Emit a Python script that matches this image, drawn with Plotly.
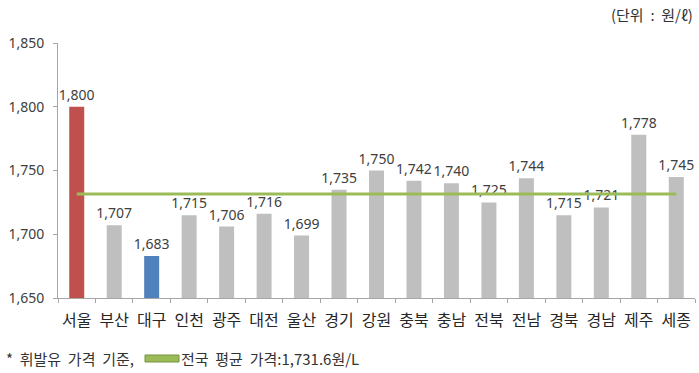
import plotly.graph_objects as go

regions = ["서울", "부산", "대구", "인천", "광주", "대전", "울산", "경기", "강원",
           "충북", "충남", "전북", "전남", "경북", "경남", "제주", "세종"]
prices = [1800, 1707, 1683, 1715, 1706, 1716, 1699, 1735, 1750,
          1742, 1740, 1725, 1744, 1715, 1721, 1778, 1745]
national_avg = 1731.6
y_ticks = [1650, 1700, 1750, 1800, 1850]

colors = ["#C0504D" if r == "서울" else "#4F81BD" if r == "대구" else "#BFBFBF" for r in regions]

fig = go.Figure()
fig.add_trace(go.Bar(
    x=regions, y=prices, marker=dict(color=colors, line=dict(width=0)),
    width=0.4, text=[f"{v:,}" for v in prices], textposition="outside",
    constraintext="none",
    textfont=dict(family="Noto Sans, Noto Sans CJK KR", size=14, color="#404040"),
    cliponaxis=False, showlegend=False,
))
fig.add_trace(go.Scatter(
    x=regions, y=[national_avg] * len(regions), mode="lines",
    line=dict(color="#9BBB59", width=3), showlegend=False,
))

W, H = 699, 373
L, R, T, B = 58, 4, 43, 75
pw, ph = W - L - R, H - T - B

def px(x):
    return (x - L) / pw

def py(y):
    return (H - B - y) / ph

fig.update_layout(
    width=W, height=H, margin=dict(l=L, r=R, t=T, b=B),
    plot_bgcolor="white", paper_bgcolor="white", bargap=0.6,
    font=dict(family="Noto Sans CJK KR", color="#262626"),
    xaxis=dict(showline=True, linecolor="#A6A6A6", linewidth=1, ticks="outside",
               tickson="boundaries", ticklen=4, tickcolor="#A6A6A6", tickangle=0,
               ticklabelstandoff=8,
               tickfont=dict(size=16, color="#262626", family="Noto Sans CJK KR"),
               showgrid=False),
    yaxis=dict(range=[1650, 1850], tickvals=y_ticks,
               ticktext=[f"{v:,}" for v in y_ticks], showline=True,
               linecolor="#A6A6A6", linewidth=1, ticks="outside", ticklen=4,
               tickcolor="#A6A6A6", showgrid=False, zeroline=False,
               ticklabelstandoff=6,
               tickfont=dict(size=14, color="#404040", family="Noto Sans")),
    annotations=[
        dict(text="(단위  :  원/ℓ)", x=px(695), y=py(15), xref="paper", yref="paper",
             xanchor="right", yanchor="middle", showarrow=False,
             font=dict(size=15, color="#333333")),
        dict(text="*  휘발유  가격  기준,", x=px(4), y=py(358), xref="paper", yref="paper",
             xanchor="left", yanchor="middle", showarrow=False,
             font=dict(size=15, color="#333333")),
        dict(text="전국  평균  가격:1,731.6원/L", x=px(179), y=py(358), xref="paper",
             yref="paper", xanchor="left", yanchor="middle", showarrow=False,
             font=dict(size=15, color="#333333")),
    ],
    shapes=[
        dict(type="rect", xref="paper", yref="paper", x0=px(145), x1=px(179),
             y0=py(355), y1=py(362), fillcolor="#9BBB59",
             line=dict(color="#77933C", width=1)),
    ],
)

fig.write_html("out.html", config={"displayModeBar": False},
               post_script="document.body.style.margin='0';document.body.style.overflow='hidden';")
